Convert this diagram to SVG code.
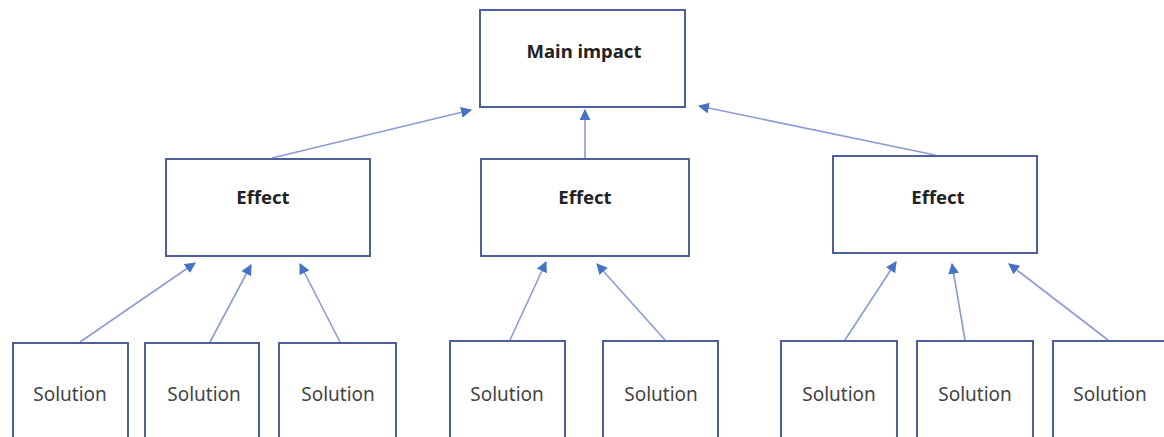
<svg xmlns="http://www.w3.org/2000/svg" width="1164" height="437" viewBox="0 0 1164 437">
<style>
.box{fill:#fff;stroke:#4f5f9c;stroke-width:2}
.lbl{font-family:"Noto Sans","Open Sans",sans-serif;font-size:19px;fill:#222;text-anchor:middle}
.b{font-weight:bold;font-size:18.5px}
.sol{fill:#444}
.c{stroke:#8b9bd6;stroke-width:1.6;fill:none;marker-end:url(#ah)}
</style>
<defs>
<marker id="ah" viewBox="0 0 10 10" refX="9" refY="5" markerWidth="11" markerHeight="11" markerUnits="userSpaceOnUse" orient="auto">
<path d="M0,0 L10,5 L0,10 z" fill="#4472c4"/>
</marker>
</defs>
<rect width="1164" height="437" fill="#fff"/>
<g id="connectors">
<line class="c" x1="272" y1="158" x2="471" y2="110"/>
<line class="c" x1="585" y1="158" x2="585" y2="110"/>
<line class="c" x1="935" y1="155" x2="699" y2="106"/>
<line class="c" x1="80" y1="342" x2="195" y2="263"/>
<line class="c" x1="210" y1="342" x2="251" y2="265"/>
<line class="c" x1="340" y1="342" x2="300" y2="264"/>
<line class="c" x1="510" y1="340" x2="546" y2="262"/>
<line class="c" x1="665" y1="340" x2="597" y2="264"/>
<line class="c" x1="845" y1="340" x2="896" y2="262"/>
<line class="c" x1="965" y1="340" x2="952" y2="264"/>
<line class="c" x1="1108" y1="340" x2="1009" y2="264"/>
</g>
<g id="main"><rect class="box" x="480" y="10" width="205" height="97"/><text class="lbl b" x="584" y="58">Main impact</text></g>
<g id="effect1"><rect class="box" x="166" y="159" width="204" height="97"/><text class="lbl b" x="263" y="204">Effect</text></g>
<g id="effect2"><rect class="box" x="481" y="159" width="208" height="97"/><text class="lbl b" x="585" y="204">Effect</text></g>
<g id="effect3"><rect class="box" x="833" y="156" width="204" height="97"/><text class="lbl b" x="938" y="204">Effect</text></g>
<g id="sol1"><rect class="box" x="13" y="343" width="115" height="100"/><text class="lbl sol" x="70" y="401">Solution</text></g>
<g id="sol2"><rect class="box" x="145" y="343" width="114" height="100"/><text class="lbl sol" x="204" y="401">Solution</text></g>
<g id="sol3"><rect class="box" x="279" y="343" width="117" height="100"/><text class="lbl sol" x="338" y="401">Solution</text></g>
<g id="sol4"><rect class="box" x="450" y="341" width="115" height="100"/><text class="lbl sol" x="507" y="401">Solution</text></g>
<g id="sol5"><rect class="box" x="603" y="341" width="115" height="100"/><text class="lbl sol" x="661" y="401">Solution</text></g>
<g id="sol6"><rect class="box" x="781" y="341" width="116" height="100"/><text class="lbl sol" x="839" y="401">Solution</text></g>
<g id="sol7"><rect class="box" x="917" y="341" width="116" height="100"/><text class="lbl sol" x="975" y="401">Solution</text></g>
<g id="sol8"><rect class="box" x="1053" y="341" width="116" height="100"/><text class="lbl sol" x="1110" y="401">Solution</text></g>
</svg>
